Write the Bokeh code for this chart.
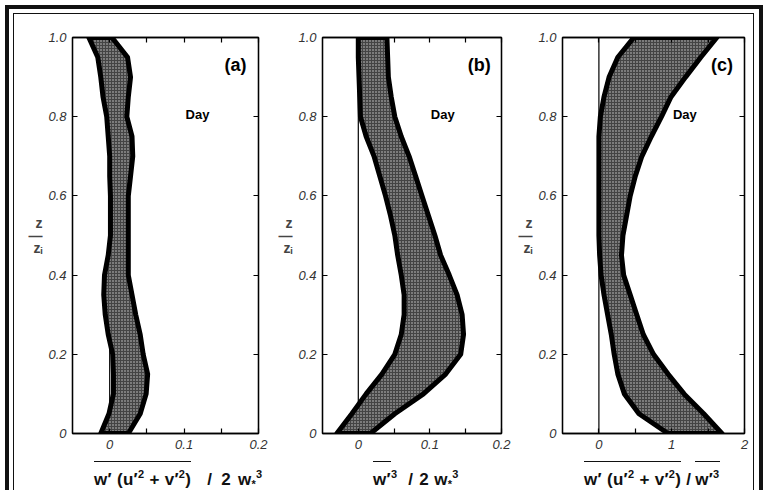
from bokeh.plotting import figure
from bokeh.models import (Range1d, FixedTicker, LinearAxis, Label, Span, Row, Column,
                          Div, GlobalInlineStyleSheet)
from bokeh.embed import file_html
from bokeh.resources import INLINE

# ---------------- data ----------------
z = [0.0, 0.05, 0.10, 0.15, 0.20, 0.25, 0.30, 0.35, 0.40, 0.45, 0.50,
     0.55, 0.60, 0.65, 0.70, 0.75, 0.80, 0.85, 0.90, 0.95, 1.0]

# (a) w'(u'^2+v'^2)/2w*^3 : band edges
a_left = [-0.012, -0.001, 0.005, 0.005, 0.004, -0.002, -0.006, -0.008, -0.007, -0.002, 0.001,
          0.001, 0.001, 0.000, 0.000, -0.002, -0.004, -0.009, -0.012, -0.016, -0.028]
a_right = [0.025, 0.041, 0.049, 0.051, 0.045, 0.041, 0.035, 0.030, 0.025, 0.025, 0.025,
           0.025, 0.025, 0.028, 0.031, 0.030, 0.023, 0.025, 0.028, 0.024, 0.003]

# (b) w'^3/2w*^3
b_left = [-0.030, -0.009, 0.011, 0.033, 0.051, 0.060, 0.064, 0.064, 0.060, 0.055, 0.051,
          0.045, 0.038, 0.030, 0.022, 0.011, 0.003, 0.002, 0.001, 0.000, 0.000]
b_right = [0.017, 0.051, 0.091, 0.122, 0.143, 0.147, 0.145, 0.138, 0.127, 0.115, 0.107,
           0.098, 0.089, 0.080, 0.071, 0.060, 0.051, 0.046, 0.042, 0.041, 0.040]

# (c) w'(u'^2+v'^2)/w'^3
c_left = [0.95, 0.55, 0.35, 0.26, 0.21, 0.17, 0.12, 0.07, 0.03, 0.01, 0.00,
          0.00, 0.00, 0.00, 0.00, 0.00, 0.02, 0.07, 0.14, 0.26, 0.48]
c_right = [1.69, 1.44, 1.17, 0.95, 0.75, 0.61, 0.52, 0.43, 0.34, 0.31, 0.33,
           0.38, 0.43, 0.50, 0.59, 0.72, 0.86, 0.99, 1.19, 1.40, 1.62]

x_range_ab = (-0.05, 0.2)
x_range_c = (-0.5, 2.0)
x_major_ab = [0, 0.1, 0.2]
x_minor_ab = [0.05, 0.15]
x_labels_ab = ["0", "0.1", "0.2"]
x_major_c = [0, 1, 2]
x_minor_c = [0.5, 1.5]
x_labels_c = ["0", "1", "2"]
y_major = [0, 0.2, 0.4, 0.6, 0.8, 1.0]
y_labels = ["0", "0.2", "0.4", "0.6", "0.8", "1.0"]

panel_tags = ["(a)", "(b)", "(c)"]
day_text = "Day"
y_title = "z\n\u2014\nz\u1d62"

SUP = "<sup style='line-height:0;font-size:11px'>%s</sup>"
SUB = "<span style='line-height:0;font-size:11px;vertical-align:-3px'>%s</span>"
OV = "<span style='border-top:1.5px solid #111;padding-top:8px'>"
SP = "<span style='margin-left:%dpx'>%s</span>"
NUMER = "w\u2032 (u\u2032" + SUP % "2" + " + v\u2032" + SUP % "2" + ")"
WSTAR = "w" + SUB % "*" + SUP % "3"
titles_html = [
    OV + NUMER + "</span>" + SP % (16, "/") + SP % (9, "2") + SP % (7, WSTAR),
    OV + "w\u2032</span>" + SUP % "3" + SP % (11, "/") + SP % (6, "2") + SP % (5, WSTAR),
    OV + NUMER + "</span>" + SP % (5, "/") + SP % (4, OV + "w\u2032" + SUP % "3" + "</span>"),
]
title_left_px = [89, 368, 579]

# ---------------- layout constants ----------------
FW, FH = 186, 396
TOP, BOTTOM = 37, 22
H = TOP + FH + BOTTOM
TICK_FONT = "Liberation Sans"
BOLD_FONT = "Liberation Sans"


def px2x(xr, px):
    return xr[0] + px / FW * (xr[1] - xr[0])


def px2y(px):
    return px / FH


def style_axis(ax, labels=True):
    ax.axis_line_color = "black"
    ax.axis_line_width = 1.3
    ax.major_tick_in = 5
    ax.major_tick_out = 0
    ax.minor_tick_in = 5
    ax.minor_tick_out = 0
    ax.major_tick_line_color = "black"
    ax.minor_tick_line_color = "black"
    ax.major_tick_line_width = 1.2
    ax.minor_tick_line_width = 1.2
    ax.major_label_text_font = TICK_FONT
    ax.major_label_text_font_style = "italic"
    ax.major_label_text_font_size = "13px"
    ax.major_label_text_color = "#333333"
    ax.major_label_standoff = 6 if labels else 0


def panel(idx, xr, xmaj, xmin, xlab, left, right, L, R):
    p = figure(width=left + FW + right, height=H,
               x_range=Range1d(*xr), y_range=Range1d(0, 1),
               output_backend="svg", toolbar_location=None,
               min_border_left=left, min_border_right=right,
               min_border_top=TOP, min_border_bottom=BOTTOM,
               background_fill_color="white", border_fill_color="white")
    p.grid.visible = False
    p.outline_line_color = "black"
    p.outline_line_width = 1.3

    p.xaxis.ticker = FixedTicker(ticks=xmaj, minor_ticks=xmin)
    p.yaxis.ticker = FixedTicker(ticks=y_major)
    p.xaxis.major_label_overrides = dict(zip(xmaj, xlab))
    p.yaxis.major_label_overrides = dict(zip(y_major, y_labels))
    style_axis(p.xaxis[0])
    style_axis(p.yaxis[0])
    p.yaxis.axis_label = y_title
    p.yaxis.axis_label_orientation = "horizontal"
    p.yaxis.axis_label_text_font = BOLD_FONT
    p.yaxis.axis_label_text_font_style = "bold"
    p.yaxis.axis_label_text_font_size = "14px"
    p.yaxis.axis_label_text_line_height = 0.8
    p.yaxis.axis_label_standoff = 3

    top = LinearAxis(ticker=FixedTicker(ticks=xmaj, minor_ticks=xmin),
                     major_label_overrides={t: "" for t in xmaj})
    style_axis(top, labels=False)
    p.add_layout(top, "above")
    rgt = LinearAxis(ticker=FixedTicker(ticks=y_major),
                     major_label_overrides={t: "" for t in y_major})
    style_axis(rgt, labels=False)
    p.add_layout(rgt, "right")

    zero = Span(location=0, dimension="height", line_color="black",
                line_width=1.2, level="underlay")
    p.add_layout(zero)

    xs = list(L) + list(R)[::-1]
    ys = list(z) + list(z)[::-1]
    p.patch(xs, ys, fill_color="#444444", hatch_pattern="dot",
            hatch_color="#d0d0d0", hatch_scale=3, hatch_weight=1.2,
            line_color="black", line_width=5, line_join="round")

    p.add_layout(Label(x=px2x(xr, 163), y=px2y(369), text=panel_tags[idx],
                       text_font=BOLD_FONT, text_font_style="bold",
                       text_font_size="18px", text_align="center",
                       text_baseline="middle", text_color="black"))
    p.add_layout(Label(x=px2x(xr, 125), y=px2y(319), text=day_text,
                       text_font=BOLD_FONT, text_font_style="bold",
                       text_font_size="13px", text_align="center",
                       text_baseline="middle", text_color="black"))
    return p


LA, RA = 72, 17
LB, RB = 40, 14
LC, RC = 43, 12
WA, WB, WC = LA + FW + RA, LB + FW + RB, LC + FW + RC
pa = panel(0, x_range_ab, x_major_ab, x_minor_ab, x_labels_ab, LA, RA, a_left, a_right)
pb = panel(1, x_range_ab, x_major_ab, x_minor_ab, x_labels_ab, LB, RB, b_left, b_right)
pc = panel(2, x_range_c, x_major_c, x_minor_c, x_labels_c, LC, RC, c_left, c_right)

TOTAL_W = WA + WB + WC
pieces = "".join(
    "<div style=\"position:absolute;left:%dpx;top:10px;white-space:nowrap;"
    "line-height:20px\">%s</div>" % (lx, t)
    for lx, t in zip(title_left_px, titles_html))
titles_div = Div(
    text=("<div style=\"position:relative;width:%dpx;height:35px;"
          "font-family:'Liberation Sans',Arial,sans-serif;font-weight:bold;"
          "font-size:17px;letter-spacing:0.3px;color:#111\">%s</div>" % (TOTAL_W, pieces)),
    width=TOTAL_W, height=35)

frame_css = GlobalInlineStyleSheet(css="""
body::before { content: ""; position: fixed; left: 5px; top: 5px; width: 758px; height: 700px;
  border-left: 4px solid #111; border-top: 4px solid #111; border-right: 4px solid #111;
  box-sizing: border-box; pointer-events: none; z-index: 10; }
body::after { content: ""; position: fixed; left: 13px; top: 13px; width: 741px; height: 700px;
  border-left: 1.5px solid #111; border-top: 1.5px solid #111; border-right: 1.5px solid #111;
  box-sizing: border-box; pointer-events: none; z-index: 10; }
""")

layout = Column(children=[Row(children=[pa, pb, pc]), titles_div],
                stylesheets=[frame_css])

open("out.html", "w").write(file_html(layout, INLINE))
